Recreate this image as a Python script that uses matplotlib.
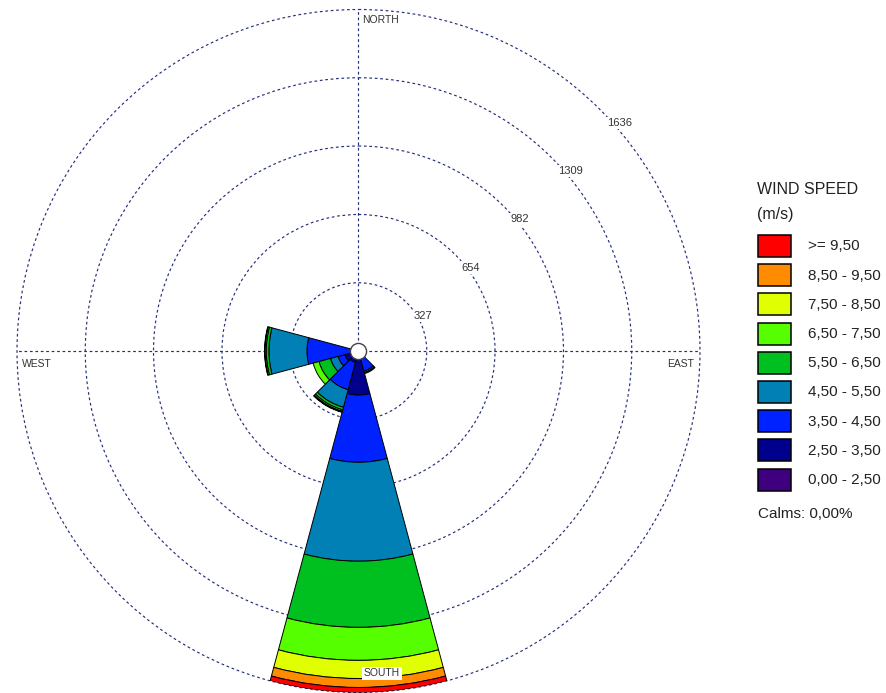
import numpy as np
import matplotlib
matplotlib.use("Agg")
import matplotlib.pyplot as plt
from matplotlib.patches import Rectangle

plt.rcParams['font.family'] = ['Liberation Sans', 'DejaVu Sans']

# ---------------- data ----------------
directions = [0, 30, 60, 90, 120, 150, 180, 210, 240, 270, 300, 330]
speed_bins = ['0,00 - 2,50', '2,50 - 3,50', '3,50 - 4,50', '4,50 - 5,50',
              '5,50 - 6,50', '6,50 - 7,50', '7,50 - 8,50', '8,50 - 9,50', '>= 9,50']
bin_colors = ['#3f007f', '#00008c', '#0022ff', '#0080b4', '#00c020',
              '#55ff00', '#e0ff00', '#ff8c00', '#ff0000']

counts_0_25 = [0, 0, 0, 0, 0, 8, 15, 8, 8, 8, 0, 0]
counts_25_35 = [0, 0, 0, 0, 0, 30, 196, 49, 59, 30, 0, 0]
counts_35_45 = [0, 0, 0, 0, 0, 62, 322, 135, 34, 209, 0, 0]
counts_45_55 = [0, 0, 0, 0, 0, 7, 474, 87, 38, 182, 0, 0]
counts_55_65 = [0, 0, 0, 0, 0, 5, 317, 13, 57, 13, 0, 0]
counts_65_75 = [0, 0, 0, 0, 0, 0, 158, 7, 29, 6, 0, 0]
counts_75_85 = [0, 0, 0, 0, 0, 0, 87, 3, 0, 2, 0, 0]
counts_85_95 = [0, 0, 0, 0, 0, 0, 43, 2, 0, 0, 0, 0]
counts_95 = [0, 0, 0, 0, 0, 0, 24, 0, 0, 0, 0, 0]

ring_values = [327, 654, 982, 1309, 1636]
ring_labels = ['327', '654', '982', '1309', '1636']
calms_text = 'Calms: 0,00%'
legend_title = 'WIND SPEED\n(m/s)'

series = [counts_0_25, counts_25_35, counts_35_45, counts_45_55, counts_55_65,
          counts_65_75, counts_75_85, counts_85_95, counts_95]

# ---------------- figure ----------------
W, H = 887, 693
fig = plt.figure(figsize=(W / 100, H / 100), dpi=100)
fig.patch.set_facecolor('white')

cx, cy, R = 358.5, 351.0, 341.5
ax = fig.add_axes([(cx - R) / W, (H - (cy + R)) / H, 2 * R / W, 2 * R / H],
                  projection='polar')
ax.set_theta_zero_location('N')
ax.set_theta_direction(-1)
ax.set_ylim(0, ring_values[-1])
ax.spines['polar'].set_visible(False)
ax.set_facecolor('none')
ax.set_axisbelow(True)

ax.set_rticks(ring_values)
ax.set_yticklabels([])
ax.set_thetagrids([0, 90, 180, 270], labels=['', '', '', ''])
gcol = '#25307a'
ax.grid(True, color=gcol, linestyle=(0, (2.3, 2.3)), linewidth=0.85)
for gl in ax.yaxis.get_gridlines() + ax.xaxis.get_gridlines():
    gl.set_clip_on(False)

theta = np.radians(directions)
width = np.radians(30)
bottom = np.zeros(len(directions))
for vals, col in zip(series, bin_colors):
    v = np.array(vals, dtype=float)
    m = v > 0
    ax.bar(theta[m], v[m], width=width, bottom=bottom[m], color=col,
           edgecolor='black', linewidth=0.7, align='center', zorder=3)
    bottom += v

ax.scatter([0], [0], s=135, facecolor='white', edgecolor='#444444',
           linewidth=1.0, zorder=10, clip_on=False)

for rv, rl in zip(ring_values, ring_labels):
    ax.annotate(rl, xy=(np.radians(45), rv), xytext=(4.8, -6.0),
                textcoords='offset points', ha='left', va='top',
                fontsize=8, color='#333333', zorder=6,
                bbox=dict(boxstyle='square,pad=0.12', fc='white', ec='none'))

# ---------------- overlay (pixel coords) ----------------
ov = fig.add_axes([0, 0, 1, 1])
ov.set_xlim(0, W)
ov.set_ylim(H, 0)
ov.axis('off')
ov.set_facecolor('none')

dkw = dict(fontsize=7.5, color='#333333')
ov.text(362, 20, 'NORTH', ha='left', va='center', **dkw)
ov.text(22, 364, 'WEST', ha='left', va='center', **dkw)
ov.text(694, 364, 'EAST', ha='right', va='center', **dkw)
ov.text(364, 673.5, 'SOUTH', ha='left', va='center',
        bbox=dict(boxstyle='square,pad=0.15', fc='white', ec='none'), **dkw)

# legend
tcol = '#222222'
ov.text(757, 189, legend_title.split('\n')[0], ha='left', va='center',
        fontsize=11.5, color=tcol)
ov.text(757, 214, legend_title.split('\n')[1], ha='left', va='center',
        fontsize=11.5, color=tcol)
top0, step = 235.0, 29.2
for i, (lab, col) in enumerate(zip(speed_bins[::-1], bin_colors[::-1])):
    y = top0 + i * step
    ov.add_patch(Rectangle((758, y), 33, 22, facecolor=col, edgecolor='black',
                           linewidth=1.1))
    ov.text(808, y + 11.5, lab, ha='left', va='center', fontsize=11, color=tcol)
ov.text(758, 514, calms_text, ha='left', va='center', fontsize=11, color=tcol)

fig.savefig('out.png', dpi=100, facecolor='white')
